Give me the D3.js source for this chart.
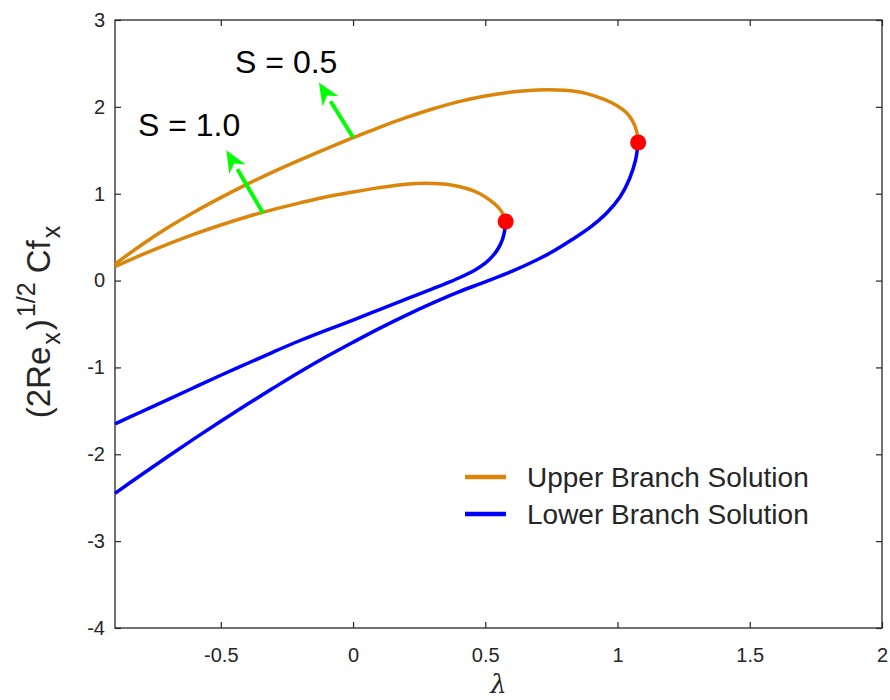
<!DOCTYPE html>
<html>
<head>
<meta charset="utf-8">
<script src="https://cdn.jsdelivr.net/npm/d3@7"></script>
<style>
  body { margin: 0; background: #fff; }
  text { font-family: "Liberation Sans", Arial, sans-serif; }
</style>
</head>
<body>
<div id="chart"></div>
<script>
// ---- data ----
var xTicks = [-0.5, 0, 0.5, 1, 1.5, 2];
var yTicks = [-4, -3, -2, -1, 0, 1, 2, 3];

// S = 0.5, upper branch (lambda, value)
var upper05 = [
	[-0.9, 0.19], [-0.8, 0.41], [-0.7, 0.61], [-0.6, 0.79], [-0.5, 0.955],
	[-0.4, 1.11], [-0.3, 1.255], [-0.2, 1.39], [-0.1, 1.52], [0, 1.645],
	[0.1, 1.765], [0.2, 1.875], [0.3, 1.975], [0.4, 2.06], [0.5, 2.125],
	[0.6, 2.17], [0.7, 2.195], [0.8, 2.19], [0.88, 2.155], [0.95, 2.085],
	[1.0, 2.01], [1.035, 1.93], [1.06, 1.82], [1.073, 1.71], [1.078, 1.59]
];
// S = 0.5, lower branch
var lower05 = [
	[1.078, 1.59], [1.068, 1.385], [1.045, 1.17], [1.01, 0.965], [0.96, 0.78],
	[0.9, 0.62], [0.83, 0.475], [0.75, 0.325], [0.7, 0.245], [0.6, 0.105],
	[0.5, -0.015], [0.4, -0.13], [0.3, -0.26], [0.2, -0.4], [0.1, -0.55],
	[0, -0.71], [-0.1, -0.875], [-0.2, -1.05], [-0.3, -1.235], [-0.4, -1.425],
	[-0.5, -1.62], [-0.6, -1.82], [-0.7, -2.025], [-0.8, -2.235], [-0.9, -2.45]
];
// S = 1.0, upper branch
var upper10 = [
	[-0.9, 0.16], [-0.8, 0.295], [-0.7, 0.42], [-0.6, 0.535], [-0.5, 0.64],
	[-0.4, 0.735], [-0.3, 0.82], [-0.2, 0.895], [-0.1, 0.965], [0, 1.02],
	[0.1, 1.07], [0.2, 1.11], [0.28, 1.12], [0.36, 1.105], [0.43, 1.06],
	[0.48, 1.0], [0.52, 0.92], [0.55, 0.84], [0.568, 0.76], [0.577, 0.68]
];
// S = 1.0, lower branch
var lower10 = [
	[0.577, 0.68], [0.573, 0.57], [0.565, 0.475], [0.55, 0.375], [0.53, 0.29],
	[0.5, 0.2], [0.46, 0.12], [0.4, 0.03], [0.35, -0.035], [0.3, -0.095],
	[0.2, -0.215], [0.1, -0.335], [0, -0.455], [-0.1, -0.57], [-0.2, -0.69],
	[-0.3, -0.82], [-0.4, -0.955], [-0.5, -1.09], [-0.6, -1.23], [-0.7, -1.37],
	[-0.8, -1.51], [-0.9, -1.65]
];
// turning points
var turningPoints = [[1.078, 1.59], [0.577, 0.68]];
// annotation arrows [fromX, fromY, toX, toY] and labels
var arrows = [[0, 1.65, -0.129, 2.28], [-0.34, 0.775, -0.479, 1.5]];
var labels = [
	{ text: "S = 0.5", x: -0.446, y: 2.39 },
	{ text: "S = 1.0", x: -0.813, y: 1.665 }
];
var legendItems = [
	{ name: "Upper Branch Solution", color: "#db850a" },
	{ name: "Lower Branch Solution", color: "#0000ff" }
];

// ---- layout ----
var margin = { top: 20, right: 8, bottom: 72, left: 115 };
var width = 890 - margin.left - margin.right;
var height = 700 - margin.top - margin.bottom;
var axisColor = "#262626";

var svg = d3
	.select("#chart")
	.append("svg")
	.attr("width", 890)
	.attr("height", 700)
	.append("g")
	.attr("transform", "translate(" + margin.left + "," + margin.top + ")");

var x = d3.scaleLinear().domain([-0.9, 2]).range([0, width]);
var y = d3.scaleLinear().domain([-4, 3]).range([height, 0]);

// axes, ticks pointing inwards on all four sides
var fmt = (d) => String(d);
svg
	.append("g")
	.attr("transform", "translate(0," + height + ")")
	.call(d3.axisBottom(x).tickValues(xTicks).tickSizeInner(-6).tickSizeOuter(0).tickPadding(20).tickFormat(fmt));
svg
	.append("g")
	.call(d3.axisLeft(y).tickValues(yTicks).tickSizeInner(-6).tickSizeOuter(0).tickPadding(10).tickFormat(fmt));
svg
	.append("g")
	.call(d3.axisTop(x).tickValues(xTicks).tickSizeInner(-6).tickSizeOuter(0).tickFormat(""));
svg
	.append("g")
	.attr("transform", "translate(" + width + ",0)")
	.call(d3.axisRight(y).tickValues(yTicks).tickSizeInner(-6).tickSizeOuter(0).tickFormat(""));

svg.selectAll(".domain").remove();
svg.selectAll(".tick line").attr("stroke", axisColor).attr("stroke-width", 1.2);
svg
	.selectAll(".tick text")
	.attr("fill", axisColor)
	.style("font-size", "20px");

svg
	.append("rect")
	.attr("width", width)
	.attr("height", height)
	.attr("fill", "none")
	.attr("stroke", axisColor)
	.attr("stroke-width", 1.3);

// axis titles
svg
	.append("text")
	.attr("x", width / 2)
	.attr("y", 693 - margin.top)
	.attr("text-anchor", "middle")
	.attr("fill", axisColor)
	.style("font-family", "'DejaVu Serif', serif")
	.style("font-style", "italic")
	.style("font-size", "26px")
	.text("λ");

var yTitle = svg
	.append("text")
	.attr("transform", "translate(" + (50 - margin.left) + "," + (322 - margin.top) + ") rotate(-90)")
	.attr("text-anchor", "middle")
	.attr("fill", axisColor)
	.style("font-size", "33px");
yTitle.append("tspan").text("(2Re");
yTitle.append("tspan").attr("dy", 10).attr("dx", 2).style("font-size", "25px").text("x");
yTitle.append("tspan").attr("dy", -10).attr("dx", 2).text(")");
yTitle.append("tspan").attr("dy", -15).attr("dx", 2).style("font-size", "25px").text("1/2");
yTitle.append("tspan").attr("dy", 15).text(" Cf");
yTitle.append("tspan").attr("dy", 10).attr("dx", 2).style("font-size", "25px").text("x");

// curves
var line = d3
	.line()
	.x((d) => x(d[0]))
	.y((d) => y(d[1]))
	.curve(d3.curveCatmullRom.alpha(0.5));

[upper05, upper10].forEach((s) => {
	svg.append("path").datum(s).attr("d", line).attr("fill", "none")
		.attr("stroke", legendItems[0].color).attr("stroke-width", 3.5)
		.attr("stroke-linejoin", "round");
});
[lower05, lower10].forEach((s) => {
	svg.append("path").datum(s).attr("d", line).attr("fill", "none")
		.attr("stroke", legendItems[1].color).attr("stroke-width", 3.5)
		.attr("stroke-linejoin", "round");
});

svg
	.selectAll(".turn")
	.data(turningPoints)
	.enter()
	.append("circle")
	.attr("class", "turn")
	.attr("cx", (d) => x(d[0]))
	.attr("cy", (d) => y(d[1]))
	.attr("r", 8)
	.attr("fill", "#ff0000");

// green arrows
arrows.forEach((a) => {
	var x0 = x(a[0]), y0 = y(a[1]), x1 = x(a[2]), y1 = y(a[3]);
	var ang = Math.atan2(y1 - y0, x1 - x0);
	var hl = 22, hw = 9.5;
	var bx = x1 - hl * Math.cos(ang), by = y1 - hl * Math.sin(ang);
	svg.append("line")
		.attr("x1", x0).attr("y1", y0).attr("x2", bx).attr("y2", by)
		.attr("stroke", "#00ff00").attr("stroke-width", 4);
	var pts = [
		[x1, y1],
		[bx + hw * Math.sin(ang), by - hw * Math.cos(ang)],
		[bx + 0.3 * hl * Math.cos(ang), by + 0.3 * hl * Math.sin(ang)],
		[bx - hw * Math.sin(ang), by + hw * Math.cos(ang)]
	];
	svg.append("polygon")
		.attr("points", pts.map((p) => p.join(",")).join(" "))
		.attr("fill", "#00ff00");
});

svg
	.selectAll(".slabel")
	.data(labels)
	.enter()
	.append("text")
	.attr("class", "slabel")
	.attr("x", (d) => x(d.x))
	.attr("y", (d) => y(d.y))
	.attr("fill", "#000")
	.style("font-size", "32px")
	.text((d) => d.text);

// legend
var legend = svg
	.selectAll(".legend")
	.data(legendItems)
	.enter()
	.append("g")
	.attr("class", "legend")
	.attr("transform", (d, i) => "translate(" + (465 - margin.left) + "," + (477 + i * 37 - margin.top) + ")");
legend.append("line").attr("x1", 0).attr("x2", 41)
	.attr("stroke", (d) => d.color).attr("stroke-width", 4.5);
legend.append("text").attr("x", 62).attr("dy", "0.35em")
	.attr("fill", axisColor)
	.style("font-size", "28px")
	.text((d) => d.name);
</script>
</body>
</html>
